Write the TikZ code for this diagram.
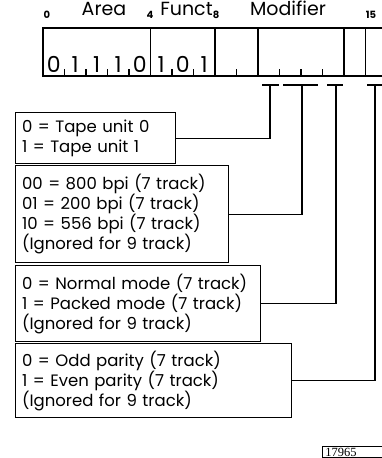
\documentclass[tikz,border=0pt]{standalone}
\usepackage{fontspec}
\setmainfont{Poppins}
\newfontfamily\labfont{Liberation Serif}
\usetikzlibrary{positioning}

\begin{document}
\begin{tikzpicture}[x=1pt,y=-1pt,line width=1.2pt,
	every node/.style={font=\fontsize{16.5}{20}\selectfont},
	code/.style={draw,align=left,anchor=north west,inner xsep=6.5pt,inner ysep=0pt},
	field/.style={font=\fontsize{19}{20}\selectfont,anchor=base,inner sep=0pt},
	bitno/.style={font=\bfseries\fontsize{10}{11}\selectfont,anchor=base,inner sep=0pt},
	bitval/.style={font=\fontsize{22}{24}\selectfont,anchor=base,inner sep=0pt}]
	\def\bw{21.5}
	\def\rx{43}
	\def\rtop{28}
	\def\rbot{76}
	\def\ty{85}
	
	\useasboundingbox (0,0) rectangle (382,458);
	\clip (0,0) rectangle (382,458);
	
	% register
	\draw (\rx,\rtop) rectangle (\rx+16*\bw,\rbot);
	\foreach \k in {5,8,10,14,15}
		\draw (\rx+\k*\bw,\rtop) -- (\rx+\k*\bw,\rbot);
	\foreach \k in {1,2,3,4,6,7,9,11,12,13}
		\draw (\rx+\k*\bw,\rbot) -- ++(0,-7);
	
	% field names and bit numbers
	\node[bitno] (b0) at (47,18) {0};
	\node[field] (area) at (104,15) {Area};
	\node[bitno] (b4) at (150,18) {4};
	\node[field] (funct) at (186.5,15) {Funct};
	\node[bitno] (b8) at (216,18) {8};
	\node[field] (modif) at (288,15) {Modifier};
	\node[bitno] (b15) at (371,18) {15};
	
	\foreach \v [count=\k from 0] in {0,1,1,1,0,1,0,1}
		\node[bitval] (d\k) at (\rx+\k*\bw+\bw/2,72) {\v};
	
	% modifier bits
	\coordinate (t1) at (270,\ty);
	\coordinate (t2) at (302,\ty);
	\coordinate (t3) at (336,\ty);
	\coordinate (t4) at (375,\ty);
	\draw (262,\ty) -- (279,\ty);
	\draw (283,\ty) -- (318,\ty);
	\draw (327,\ty) -- (343,\ty);
	\draw (367,\ty) -- (385,\ty);
	
	\node[code,text width=147,minimum height=51] (tape) at (15,112)
		{0 = Tape unit 0\\1 = Tape unit 1};
	\node[code,text width=200,minimum height=97] (dens) at (15,165)
		{00 = 800 bpi (7 track)\\01 = 200 bpi (7 track)\\10 = 556 bpi (7 track)\\(Ignored for 9 track)};
	\node[code,text width=232,minimum height=76] (mode) at (15,265)
		{0 = Normal mode (7 track)\\1 = Packed mode (7 track)\\(Ignored for 9 track)};
	\node[code,text width=263,minimum height=74] (par) at (15,343)
		{0 = Odd parity (7 track)\\1 = Even parity (7 track)\\(Ignored for 9 track)};
	
	\draw (t1) |- (tape.east);
	\draw (t2) |- (dens.east);
	\draw (t3) |- (mode.east);
	\draw (t4) |- (par.east);
	
	\node[draw,anchor=north west,text width=60,inner xsep=3pt,inner ysep=1.5pt,line width=0.8pt,
		font=\labfont\fontsize{12.5}{13}\selectfont] (fig) at (322,446) {17965};
\end{tikzpicture}
\end{document}
